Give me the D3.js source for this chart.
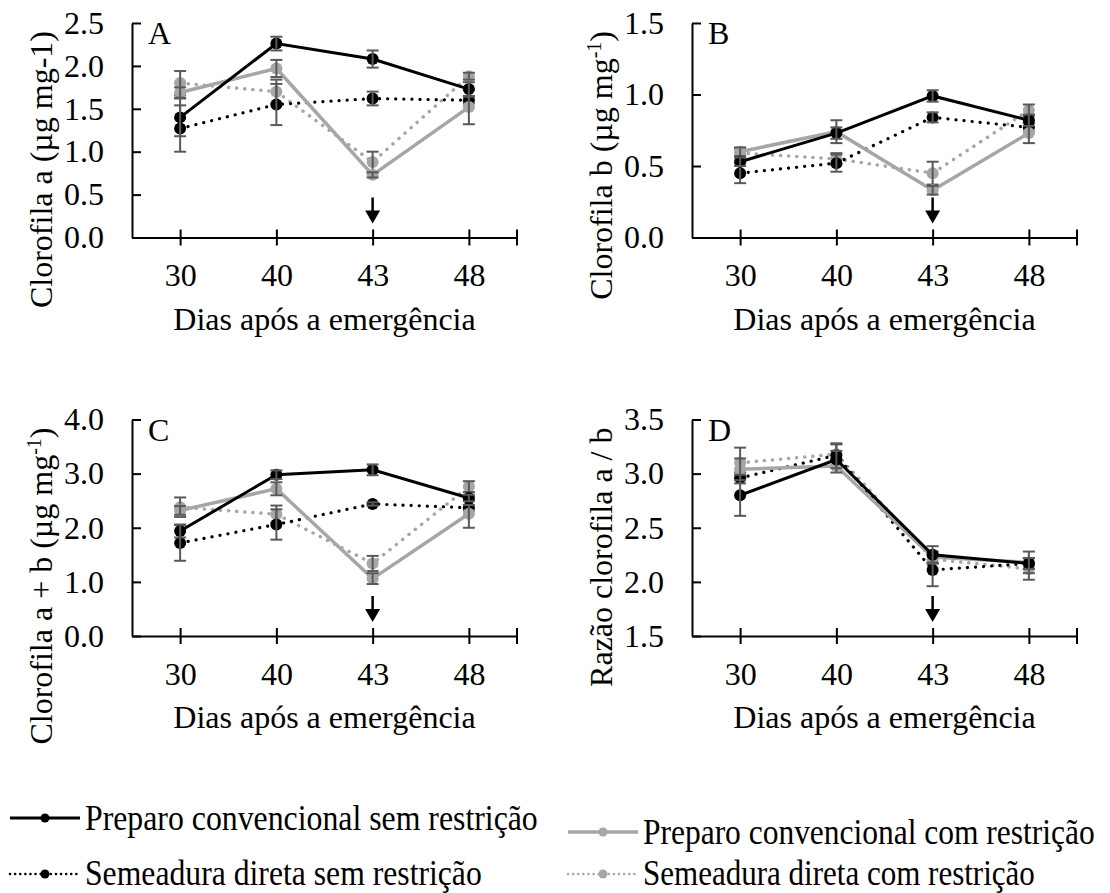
<!DOCTYPE html>
<html>
<head>
<meta charset="utf-8">
<script src="https://cdn.jsdelivr.net/npm/d3@7"></script>
<style>
  body { margin: 0; background: #fff; }
  svg text { font-family: "Liberation Serif", "Times New Roman", serif; }
</style>
</head>
<body>
<div id="chart"></div>
<script>
//days after emergence (categories)
var days = ["30", "40", "43", "48"];

//series (order: conv. sem, conv. com, direta sem, direta com)
var seriesNames = [
    "Preparo convencional sem restrição",
    "Preparo convencional com restrição",
    "Semeadura direta sem restrição",
    "Semeadura direta com restrição"
];

//A - clorofila a
var chlA_mean = [[1.40, 2.26, 2.08, 1.73], [1.69, 1.97, 0.73, 1.52], [1.27, 1.55, 1.62, 1.60], [1.80, 1.70, 0.88, 1.88]];
var chlA_err  = [[0.22, 0.08, 0.10, 0.08], [0.06, 0.10, 0.03, 0.20], [0.27, 0.24, 0.08, 0.04], [0.14, 0.14, 0.12, 0.04]];
var chlA_ticks = [0, 0.5, 1.0, 1.5, 2.0, 2.5];

//B - clorofila b
var chlB_mean = [[0.53, 0.73, 0.99, 0.82], [0.60, 0.74, 0.33, 0.73], [0.45, 0.52, 0.84, 0.77], [0.59, 0.55, 0.45, 0.89]];
var chlB_err  = [[0.03, 0.04, 0.04, 0.04], [0.03, 0.08, 0.03, 0.07], [0.07, 0.06, 0.035, 0.03], [0.03, 0.04, 0.08, 0.04]];
var chlB_ticks = [0, 0.5, 1.0, 1.5];

//C - clorofila a + b
var chlAB_mean = [[1.94, 2.98, 3.07, 2.55], [2.32, 2.72, 1.06, 2.26], [1.72, 2.06, 2.44, 2.37], [2.38, 2.25, 1.34, 2.76]];
var chlAB_err  = [[0.12, 0.08, 0.10, 0.06], [0.08, 0.12, 0.10, 0.26], [0.33, 0.28, 0.03, 0.05], [0.18, 0.16, 0.14, 0.10]];
var chlAB_ticks = [0, 1.0, 2.0, 3.0, 4.0];

//D - razao a/b
var ratio_mean = [[2.80, 3.13, 2.25, 2.17], [3.04, 3.07, 2.23, 2.18], [2.96, 3.17, 2.11, 2.17], [3.10, 3.18, 2.21, 2.12]];
var ratio_err  = [[0.19, 0.08, 0.08, 0.05], [0.10, 0.06, 0.05, 0.10], [0.05, 0.10, 0.15, 0.05], [0.14, 0.10, 0.04, 0.10]];
var ratio_ticks = [1.5, 2.0, 2.5, 3.0, 3.5];

//styles per series
var gray = "#a6a6a6",
    errColor = "#595959",
    serif = "Liberation Serif, Times New Roman, serif";
var seriesStyle = [
    {color: "#000", dash: null, width: 3},
    {color: gray, dash: null, width: 3.5},
    {color: "#000", dash: "0.1 8", width: 3.2},
    {color: gray, dash: "0.1 8", width: 3.5}
];
var drawOrder = [3, 2, 1, 0];

var width = 1110, height = 893;
var svg = d3.select("#chart").append("svg")
    .attr("width", width)
    .attr("height", height)
    .attr("font-family", serif);

var panels = [
    {letter: "A", mean: chlA_mean, err: chlA_err, ticks: chlA_ticks, left: 132, top: 23, h: 214.5,
        label: [{t: "Clorofila a (µg mg-1)"}]},
    {letter: "B", mean: chlB_mean, err: chlB_err, ticks: chlB_ticks, left: 692, top: 23, h: 214.5,
        label: [{t: "Clorofila b (µg mg"}, {t: "-1", sup: true}, {t: ")"}]},
    {letter: "C", mean: chlAB_mean, err: chlAB_err, ticks: chlAB_ticks, left: 132, top: 419.5, h: 216.5,
        label: [{t: "Clorofila a + b (µg mg"}, {t: "-1", sup: true}, {t: ")"}]},
    {letter: "D", mean: ratio_mean, err: ratio_err, ticks: ratio_ticks, left: 692, top: 419.5, h: 216.5,
        label: [{t: "Razão clorofila a / b"}]}
];
var plotW = 385;

panels.forEach(drawPanel);

function drawPanel(p) {
    var g = svg.append("g").attr("transform", "translate(" + p.left + "," + p.top + ")");

    var x = d3.scalePoint().domain(days).range([0, plotW]).padding(0.5);
    var y = d3.scaleLinear()
        .domain([p.ticks[0], p.ticks[p.ticks.length - 1]])
        .range([p.h, 0]);

    //y axis, ticks pointing inside
    var yAxis = g.append("g")
        .call(d3.axisLeft(y).tickValues(p.ticks).tickSizeInner(-9).tickSizeOuter(0)
            .tickPadding(28).tickFormat(d3.format(".1f")));
    yAxis.attr("font-family", serif);
    yAxis.selectAll("path, line").attr("stroke", "#000").attr("stroke-width", 2);
    yAxis.selectAll("text").attr("font-size", 32).attr("fill", "#000");

    //x axis, ticks crossing the line
    var xAxis = g.append("g")
        .attr("transform", "translate(0," + p.h + ")")
        .call(d3.axisBottom(x).tickSize(8).tickSizeOuter(0).tickPadding(18));
    xAxis.attr("font-family", serif);
    xAxis.selectAll(".tick line").attr("y1", -8).attr("y2", 8);
    xAxis.selectAll("path, line").attr("stroke", "#000").attr("stroke-width", 2);
    xAxis.selectAll("text").attr("font-size", 32).attr("fill", "#000");
    //tick at the right end of the axis
    xAxis.append("line")
        .attr("x1", x.range()[1]).attr("x2", x.range()[1])
        .attr("y1", -8).attr("y2", 8)
        .attr("stroke", "#000").attr("stroke-width", 2);

    //x axis title
    g.append("text")
        .attr("x", plotW / 2)
        .attr("y", p.h + 92)
        .attr("text-anchor", "middle")
        .attr("font-size", 32)
        .text("Dias após a emergência");

    //y axis title (ends near the top of the axis)
    var yt = g.append("text")
        .attr("transform", "rotate(-90)")
        .attr("x", -8)
        .attr("y", -80)
        .attr("text-anchor", "end")
        .attr("font-size", 32);
    p.label.forEach(function(s) {
        var ts = yt.append("tspan").text(s.t);
        if (s.sup) ts.attr("font-size", 20).attr("baseline-shift", "super");
    });

    //panel letter
    g.append("text")
        .attr("x", 16)
        .attr("y", 21)
        .attr("font-size", 32)
        .text(p.letter);

    //arrow at day 43
    var ax = x("43");
    g.append("line")
        .attr("x1", ax).attr("x2", ax)
        .attr("y1", p.h - 40).attr("y2", p.h - 24)
        .attr("stroke", "#000").attr("stroke-width", 2.5);
    g.append("path")
        .attr("d", "M" + (ax - 7.5) + "," + (p.h - 27) + "L" + (ax + 7.5) + "," + (p.h - 27) + "L" + ax + "," + (p.h - 14) + "Z")
        .attr("fill", "#000");

    var line = d3.line()
        .x(function(d, i) { return x(days[i]); })
        .y(function(d) { return y(d); });

    drawOrder.forEach(function(si) {
        var st = seriesStyle[si];
        var vals = p.mean[si];
        var errs = p.err[si];

        g.append("path")
            .datum(vals)
            .attr("d", line)
            .attr("fill", "none")
            .attr("stroke", st.color)
            .attr("stroke-width", st.width)
            .attr("stroke-linecap", st.dash ? "round" : "butt")
            .attr("stroke-dasharray", st.dash);

        g.selectAll(null)
            .data(vals)
            .enter()
            .append("circle")
            .attr("cx", function(d, i) { return x(days[i]); })
            .attr("cy", function(d) { return y(d); })
            .attr("r", 6)
            .attr("fill", st.color);

        //error bars
        var eb = g.selectAll(null)
            .data(vals.map(function(v, i) { return {day: days[i], v: v, e: errs[i]}; }))
            .enter()
            .append("g")
            .attr("stroke", errColor)
            .attr("stroke-width", 2);
        eb.append("line")
            .attr("x1", function(d) { return x(d.day); })
            .attr("x2", function(d) { return x(d.day); })
            .attr("y1", function(d) { return y(d.v + d.e); })
            .attr("y2", function(d) { return y(d.v - d.e); });
        eb.append("line")
            .attr("x1", function(d) { return x(d.day) - 6; })
            .attr("x2", function(d) { return x(d.day) + 6; })
            .attr("y1", function(d) { return y(d.v + d.e); })
            .attr("y2", function(d) { return y(d.v + d.e); });
        eb.append("line")
            .attr("x1", function(d) { return x(d.day) - 6; })
            .attr("x2", function(d) { return x(d.day) + 6; })
            .attr("y1", function(d) { return y(d.v - d.e); })
            .attr("y2", function(d) { return y(d.v - d.e); });
    });
}

//legend (text squeezed horizontally like the original)
var legendPos = [
    {x: 10, lineY: 818, textY: 830, len: 453},
    {x: 568, lineY: 832, textY: 844, len: 452},
    {x: 10, lineY: 874, textY: 885, len: 397},
    {x: 568, lineY: 874, textY: 885, len: 392}
];
seriesNames.forEach(function(name, i) {
    var st = seriesStyle[i], lp = legendPos[i];
    var lg = svg.append("g").attr("class", "legend");
    lg.append("line")
        .attr("x1", lp.x).attr("x2", lp.x + 70)
        .attr("y1", lp.lineY).attr("y2", lp.lineY)
        .attr("stroke", st.color)
        .attr("stroke-width", st.dash ? 2.5 : st.width)
        .attr("stroke-linecap", st.dash ? "round" : "butt")
        .attr("stroke-dasharray", st.dash ? "0.1 5" : null);
    lg.append("circle")
        .attr("cx", lp.x + 35).attr("cy", lp.lineY)
        .attr("r", 4.5)
        .attr("fill", st.color);
    var tg = lg.append("g");
    var txt = tg.append("text")
        .attr("x", 0)
        .attr("y", 0)
        .attr("font-size", 35)
        .text(name);
    var natural = txt.node().getComputedTextLength();
    var sx = natural > 0 ? lp.len / natural : 1;
    tg.attr("transform", "translate(" + (lp.x + 75) + "," + lp.textY + ") scale(" + sx + ",1)");
});
</script>
</body>
</html>
